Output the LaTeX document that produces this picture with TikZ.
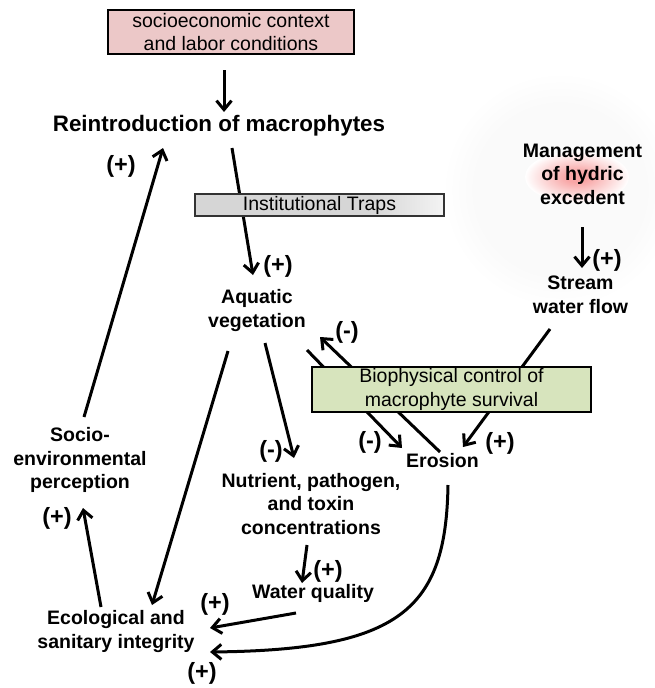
\documentclass[tikz,border=0pt]{standalone}
\usepackage{fontspec}
\setmainfont{Liberation Sans}
\usetikzlibrary{arrows.meta}

\definecolor{ctxpink}{RGB}{236,200,200}
\definecolor{biogreen}{RGB}{215,228,189}
\definecolor{trapgray}{RGB}{214,214,214}
\definecolor{traplight}{RGB}{243,243,243}
\definecolor{halogray}{RGB}{250,250,250}
\definecolor{glowred}{RGB}{248,165,165}

% soft disc behind the water-management block
\pgfdeclareradialshading{haloshade}{\pgfpoint{0bp}{0bp}}{color(0bp)=(halogray); color(18bp)=(halogray); color(25bp)=(white); color(50bp)=(white)}
% reddish glow behind "of hydric"
\pgfdeclareradialshading{glowshade}{\pgfpoint{0bp}{0bp}}{color(0bp)=(glowred); color(5bp)=(glowred); color(25bp)=(white); color(50bp)=(white)}
% grey bar that lightens towards its right end
\pgfdeclarehorizontalshading{trapshade}{100bp}{color(0bp)=(trapgray); color(60bp)=(trapgray); color(75bp)=(traplight); color(100bp)=(traplight)}

\begin{document}
\begin{tikzpicture}[x=1pt,y=-1pt,
  lbl/.style={font=\bfseries\fontsize{19.5}{23.5}\selectfont, align=center, inner sep=0pt},
  sign/.style={font=\bfseries\fontsize{23.5}{26}\selectfont, inner sep=0pt},
  boxtext/.style={draw=black, line width=2.4pt, font=\fontsize{19.5}{23.5}\selectfont, align=center, inner sep=0pt},
  conn/.style={line width=3pt, -{Straight Barb[length=9pt,width=15pt]}}]

\useasboundingbox (0,0) rectangle (655,688);

% background glows
\shade[shading=haloshade] (560,190) circle (118);
\shade[shading=glowshade] (577,177) ellipse (52 and 26);

% variables
\node[lbl, font=\bfseries\fontsize{22.4}{27}\selectfont] (reintro) at (219,126) {Reintroduction of macrophytes};
\node[lbl] (aq) at (257,310.5) {Aquatic\\vegetation};
\node[lbl] (socio) at (80,460) {Socio-\\environmental\\perception};
\node[lbl] (eco) at (116,631.5) {Ecological and\\sanitary integrity};
\node[lbl] (nut) at (311,504) {Nutrient, pathogen,\\and toxin\\concentrations};
\node[lbl] (water) at (313,593) {Water quality};
\node[lbl] (ero) at (442.5,461) {Erosion};
\node[lbl] (mgmt) at (582.5,174) {Management\\of hydric\\excedent};
\node[lbl] (stream) at (580.5,294.7) {Stream\\water flow};

% polarity signs
\node[sign] (s1) at (121,166) {(+)};
\node[sign] (s2) at (278,266) {(+)};
\node[sign] (s3) at (607,260) {(+)};
\node[sign] (s4) at (271,451) {(-)};
\node[sign] (s5) at (347,332) {(-)};
\node[sign] (s6) at (370,442) {(-)};
\node[sign] (s7) at (500,443) {(+)};
\node[sign] (s8) at (328,571) {(+)};
\node[sign] (s9) at (215,604) {(+)};
\node[sign] (s10) at (202,673) {(+)};
\node[sign] (s11) at (57,518) {(+)};

% context box
\node[boxtext, fill=ctxpink, minimum width=246pt, minimum height=44pt] (ctx) at (231,32) {socioeconomic context\\and labor conditions};

% causal links
\draw[conn] ([shift={(-7,38)}]ctx.center) -- ([shift={(5,-14)}]reintro.center);
\draw[conn] ([shift={(4,-43)}]socio.center) -- ([shift={(-56,22)}]reintro.center);
\draw[conn] ([shift={(13,22)}]reintro.center) -- ([shift={(-4,-35.5)}]aq.center);
\draw[conn] ([shift={(-29,40.5)}]aq.center) -- ([shift={(36,-26.5)}]eco.center);
\draw[conn] ([shift={(8,32.5)}]aq.center) -- ([shift={(-17,-46)}]nut.center);
\draw[conn] ([shift={(50,39.5)}]aq.center) -- ([shift={(-40.5,-13)}]ero.center);
\draw[conn] ([shift={(-2.5,-9)}]ero.center) -- ([shift={(63,26.5)}]aq.center);
\draw[conn] ([shift={(-30.5,34.3)}]stream.center) -- ([shift={(20.5,-14)}]ero.center);
\draw[conn] ([shift={(-0.5,53)}]mgmt.center) -- ([shift={(1.5,-26.7)}]stream.center);
\draw[conn] ([shift={(-4,41)}]nut.center) -- ([shift={(-11,-10)}]water.center);
\draw[conn] ([shift={(-17,20)}]water.center) -- ([shift={(94,-3.5)}]eco.center);
\draw[conn] ([shift={(5.5,24)}]ero.center) .. controls (446,610) and (400,650) .. ([shift={(94,20.5)}]eco.center);
\draw[conn] ([shift={(-15,-24.5)}]eco.center) -- ([shift={(3,48)}]socio.center);

% boxes laid over the links
\node[boxtext, draw=black!80, shading=trapshade, minimum width=249pt, minimum height=22pt] (inst) at (319.5,205) {Institutional Traps};
\node[boxtext, fill=biogreen, minimum width=279pt, minimum height=45pt] (bio) at (451.5,389.5) {Biophysical control of\\macrophyte survival};

\end{tikzpicture}
\end{document}
